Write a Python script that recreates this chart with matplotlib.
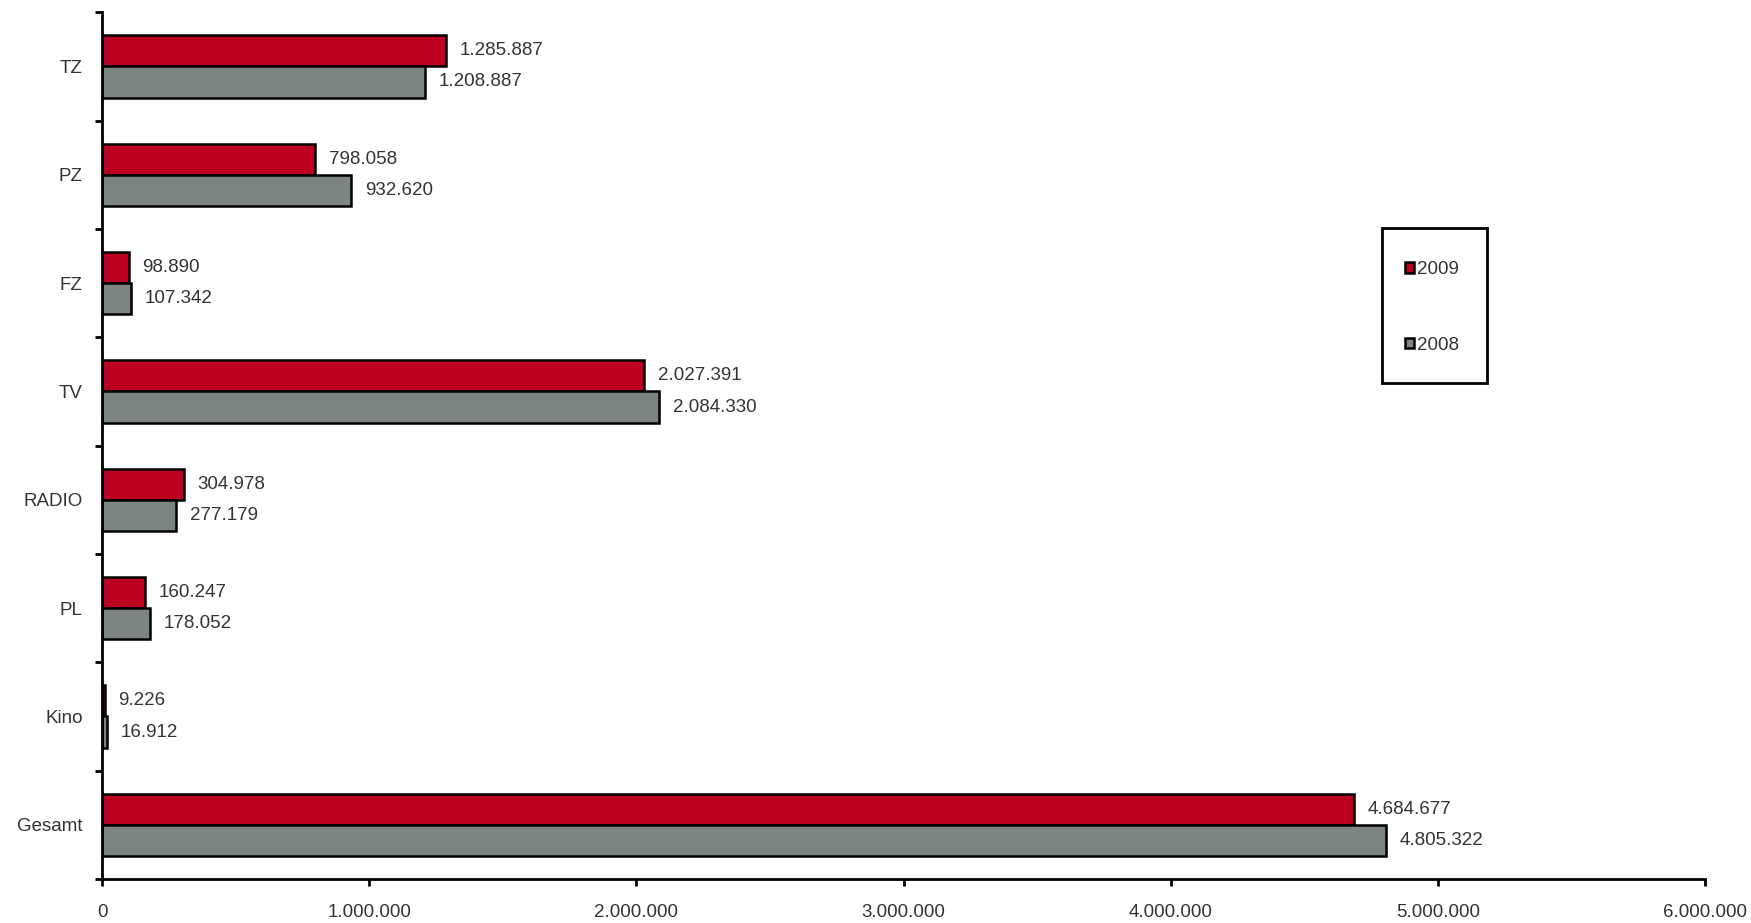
import matplotlib.pyplot as plt
from matplotlib.patches import Rectangle
from matplotlib.ticker import FixedLocator, NullFormatter

plt.rcParams['font.family'] = ['Liberation Sans', 'DejaVu Sans']

# Daten
kategorien = ["TZ", "PZ", "FZ", "TV", "RADIO", "PL", "Kino", "Gesamt"]
werte_2009 = [1285887, 798058, 98890, 2027391, 304978, 160247, 9226, 4684677]
werte_2008 = [1208887, 932620, 107342, 2084330, 277179, 178052, 16912, 4805322]
x_ticks = [0, 1000000, 2000000, 3000000, 4000000, 5000000, 6000000]

rot = "#BC0022"
grau = "#7C857F"
textfarbe = "#333333"
fs = 13.5


def punkt_format(v):
    return f"{v:,}".replace(",", ".")


fig = plt.figure(figsize=(17.51, 9.23), dpi=100)
ax = fig.add_axes([0.0583, 0.0477, 0.9154, 0.939])

pos = list(range(len(kategorien)))
h = 0.287
b09 = ax.barh([p - h / 2 for p in pos], werte_2009, height=h, color=rot,
              edgecolor="black", linewidth=1.8, label="2009")
b08 = ax.barh([p + h / 2 for p in pos], werte_2008, height=h, color=grau,
              edgecolor="black", linewidth=1.8, label="2008")

# Werte an die Balken
for p, v in zip(pos, werte_2009):
    ax.annotate(punkt_format(v), (v, p - h / 2), xytext=(10, 0),
                textcoords="offset points", va="center", ha="left",
                fontsize=fs, color=textfarbe)
for p, v in zip(pos, werte_2008):
    ax.annotate(punkt_format(v), (v, p + h / 2), xytext=(10, 0),
                textcoords="offset points", va="center", ha="left",
                fontsize=fs, color=textfarbe)

ax.set_xlim(0, 6000000)
ax.set_ylim(len(kategorien) - 0.5, -0.5)

ax.set_xticks(x_ticks)
ax.set_xticklabels([punkt_format(t) for t in x_ticks], fontsize=fs, color=textfarbe)

# Striche an den Kategoriegrenzen, Namen in der Mitte
ax.yaxis.set_major_locator(FixedLocator([p - 0.5 for p in range(len(kategorien) + 1)]))
ax.yaxis.set_major_formatter(NullFormatter())
ax.yaxis.set_minor_locator(FixedLocator(pos))
ax.set_yticklabels(kategorien, minor=True, fontsize=fs, color=textfarbe)
ax.tick_params(axis="y", which="minor", length=0, pad=14)
ax.tick_params(axis="y", which="major", length=5, width=2, direction="out")
ax.tick_params(axis="x", length=5, width=2, direction="out", pad=13)

for s in ["top", "right"]:
    ax.spines[s].set_visible(False)
for s in ["left", "bottom"]:
    ax.spines[s].set_linewidth(2)

# Legende ohne eigenen Rahmen, Rahmen separat
leg = fig.legend(handles=[b09, b08], labels=["2009", "2008"],
                 loc="center left", bbox_to_anchor=(0.8024, 0.6668),
                 fontsize=fs, frameon=False,
                 borderpad=0, labelspacing=3.1, handlelength=0.5,
                 handleheight=0.5, handletextpad=0.15, borderaxespad=0)
for t in leg.get_texts():
    t.set_color(textfarbe)

rahmen = Rectangle((1382 / 1751, 1 - 383 / 923), 105 / 1751, 155 / 923,
                   transform=fig.transFigure, fill=False,
                   edgecolor="black", linewidth=2)
fig.patches.append(rahmen)

fig.savefig("out.png", dpi=100)
